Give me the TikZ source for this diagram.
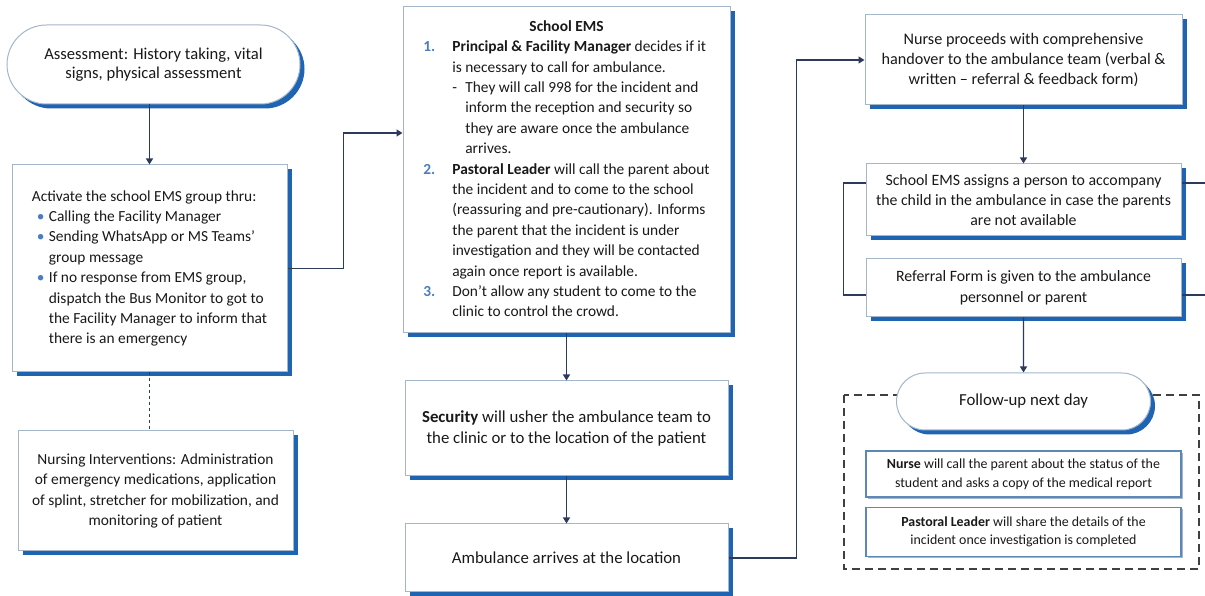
\documentclass[tikz,border=0pt]{standalone}
\usepackage{fontspec}
\setmainfont{Carlito}
\usetikzlibrary{positioning,shapes.misc,shadows,arrows.meta}

\definecolor{shadeblue}{HTML}{1F63B3}
\definecolor{edgegrey}{HTML}{A3B6CA}
\definecolor{linenavy}{HTML}{2D3A5A}
\definecolor{numblue}{HTML}{4A7EC0}
\definecolor{subblue}{HTML}{5C87B7}

\tikzstyle{box} = [rectangle, draw=edgegrey, line width=1pt, fill=white, text=black!90, align=center, inner sep=0pt, font=\fontsize{15.4}{20.4}\selectfont, drop shadow={shadow xshift=4.5pt, shadow yshift=-4.5pt, fill=shadeblue, opacity=1}]
\tikzstyle{term} = [box, rounded rectangle]
\tikzstyle{sub} = [rectangle, draw=subblue, line width=1.2pt, fill=white, text=black!90, align=center, inner sep=0pt, font=\fontsize{13.9}{18.5}\selectfont, drop shadow={shadow xshift=1.5pt, shadow yshift=-1.5pt, fill=edgegrey, opacity=1}]
\tikzstyle{arrow} = [draw=linenavy, line width=1.3pt, -{Triangle[length=6pt,width=7pt]}]
\tikzstyle{link} = [draw=linenavy, line width=1.3pt]
\tikzstyle{frame} = [draw=black!75, line width=1.4pt, dash pattern=on 8pt off 5pt]

\newcommand{\emsno}[1]{\textcolor{numblue}{\textbf{#1}}}
\newcommand{\dotitem}{\makebox[17pt][l]{\hspace{5pt}\textcolor{numblue}{\textbullet}}}

\begin{document}
\begin{tikzpicture}[x=1pt, y=1pt, node distance=47pt]
\useasboundingbox (0,0) rectangle (1205,596);

% left column
\node (assess) [term, minimum width=293pt, minimum height=79pt, font=\fontsize{16.6}{19.5}\selectfont] at (153.5,531.5) {Assessment: History taking, vital\\signs, physical assessment};

\node (act) [box, minimum width=275pt, minimum height=207pt] at (149.5,327.5) {%
\begin{tabular}{@{}l@{}l@{}}
\multicolumn{2}{@{}l@{}}{Activate the school EMS group thru:}\\
\dotitem & Calling the Facility Manager\\
\dotitem & Sending WhatsApp or MS Teams'\\
 & group message\\
\dotitem & If no response from EMS group,\\
 & dispatch the Bus Monitor to got to\\
 & the Facility Manager to inform that\\
 & there is an emergency
\end{tabular}};

\node (nursing) [box, minimum width=275pt, minimum height=120pt, below=58pt of act, xshift=6pt] {Nursing Interventions: Administration\\of emergency medications, application\\of splint, stretcher for mobilization, and\\monitoring of patient};

% middle column
\node (ems) [box, minimum width=327pt, minimum height=326pt] at (566.5,426) {%
\begin{tabular}{@{}l@{}l@{}}
\multicolumn{2}{@{}c@{}}{\textbf{School EMS}}\\
\makebox[29pt][l]{\emsno{1.}} & \textbf{Principal \& Facility Manager} decides if it\\
 & is necessary to call for ambulance.\\
 & \makebox[13pt][l]{-}They will call 998 for the incident and\\
 & \hspace{13pt}inform the reception and security so\\
 & \hspace{13pt}they are aware once the ambulance\\
 & \hspace{13pt}arrives.\\
\emsno{2.} & \textbf{Pastoral Leader} will call the parent about\\
 & the incident and to come to the school\\
 & (reassuring and pre-cautionary). Informs\\
 & the parent that the incident is under\\
 & investigation and they will be contacted\\
 & again once report is available.\\
\emsno{3.} & Don't allow any student to come to the\\
 & clinic to control the crowd.
\end{tabular}};

\node (sec) [box, minimum width=323pt, minimum height=95pt, below=of ems, font=\fontsize{16.8}{20.5}\selectfont] {\textbf{Security} will usher the ambulance team to\\the clinic or to the location of the patient};

\node (amb) [box, minimum width=323pt, minimum height=68pt, below=of sec, font=\fontsize{16.8}{20.5}\selectfont] {Ambulance arrives at the location};

% right column
\node (hand) [box, minimum width=317pt, minimum height=90pt, font=\fontsize{16.2}{20}\selectfont] at (1023.5,536) {Nurse proceeds with comprehensive\\handover to the ambulance team (verbal \&\\written -- referral \& feedback form)};

\node (assign) [box, minimum width=315pt, minimum height=72pt, below=58pt of hand, font=\fontsize{15.8}{20}\selectfont] {School EMS assigns a person to accompany\\the child in the ambulance in case the parents\\are not available};

\node (referral) [box, minimum width=315pt, minimum height=58pt, below=22pt of assign, font=\fontsize{15.8}{21}\selectfont] {Referral Form is given to the ambulance\\personnel or parent};

\draw[frame] (844,201) rectangle (1199,27);

\node (follow) [term, minimum width=254pt, minimum height=57pt, below=55pt of referral, font=\fontsize{16.8}{19}\selectfont] {Follow-up next day};

\node (call) [sub, minimum width=315pt, minimum height=46pt, below=20pt of follow] {\textbf{Nurse} will call the parent about the status of the\\student and asks a copy of the medical report};

\node (share) [sub, minimum width=315pt, minimum height=49pt, below=9pt of call] {\textbf{Pastoral Leader} will share the details of the\\incident once investigation is completed};

\coordinate (edge) at (1205,0);

% connectors
\draw[arrow] (assess.south -| act.north) -- (act.north);
\draw[link, dashed, line width=1.2pt] (act.south) -- (act.south |- nursing.north);
\draw[arrow] (act.east) -- ++(56,0) |- ([yshift=37pt]ems.west);
\draw[arrow] (ems) -- (sec);
\draw[arrow] (sec) -- (amb);
\draw[arrow] (amb.east) -- ++(68,0) |- (hand.west);
\draw[arrow] (hand) -- (assign);
\draw[link] ([yshift=17pt]assign.west) -- ++(-22,0) |- ([yshift=-7pt]referral.west);
\draw[link] ([yshift=17pt]assign.east) -- ([yshift=17pt]assign.east -| edge);
\draw[link] ([yshift=-7pt]referral.east) -- ([yshift=-7pt]referral.east -| edge);
\draw[arrow] (referral) -- (follow);

\end{tikzpicture}
\end{document}
